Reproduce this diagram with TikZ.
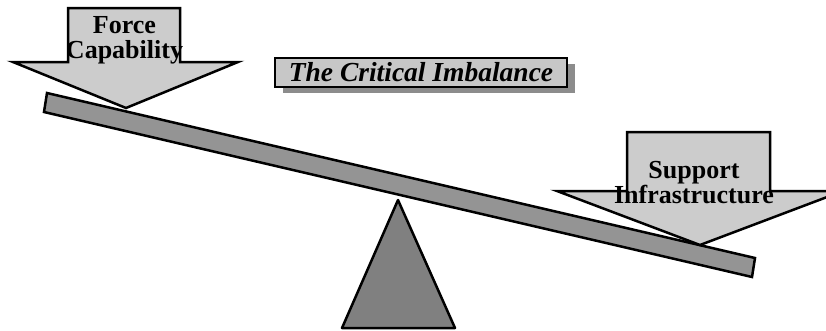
\documentclass[tikz,border=0pt]{standalone}
\usepackage{fontspec}
\setmainfont{Liberation Serif}
\usetikzlibrary{shadows}
\tikzset{
  arrowbox/.style={fill=black!20, draw=black, line width=2.5pt, line join=miter},
  beambar/.style={fill=black!42, draw=black, line width=2.5pt},
  fulcrum/.style={fill=black!50, draw=black, line width=2.5pt, line join=round},
  weightlabel/.style={font=\fontsize{26}{25}\selectfont\bfseries, align=center,
    inner sep=0pt, anchor=base},
  titlebox/.style={fill=black!22, draw=black, line width=2pt, minimum width=292pt,
    minimum height=29pt, inner sep=0pt, font=\fontsize{27.5}{27.5}\selectfont\bfseries\itshape,
    drop shadow={shadow xshift=8pt, shadow yshift=-6pt, fill=black!45, opacity=1}}
}
\begin{document}
\begin{tikzpicture}[x=1pt,y=-1pt]
        \useasboundingbox (0,0) rectangle (826,330);
        \clip (0,0) rectangle (826,330);

        % Draw the fulcrum and the beam
        \filldraw[fulcrum] (398,200) -- (455,328) -- (342,328) -- cycle;
        \filldraw[beambar] (47,93) -- (755,258) -- (752,277) -- (44,112) -- cycle;

        % Draw the two weights
        \filldraw[arrowbox] (68,8) -- (180,8) -- (180,62) -- (238,62) -- (126,108)
            -- (13,62) -- (68,62) -- cycle;
        \filldraw[arrowbox] (627,132) -- (770,132) -- (770,191) -- (843,191) -- (700,245)
            -- (557,191) -- (627,191) -- cycle;

        % Labels
        \node[weightlabel] (force) at (124.5,58) {Force\\Capability};
        \node[weightlabel] (support) at (694,203) {Support\\Infrastructure};
        \node[titlebox] (title) at (421,72.5) {The Critical Imbalance};
    \end{tikzpicture}
\end{document}
